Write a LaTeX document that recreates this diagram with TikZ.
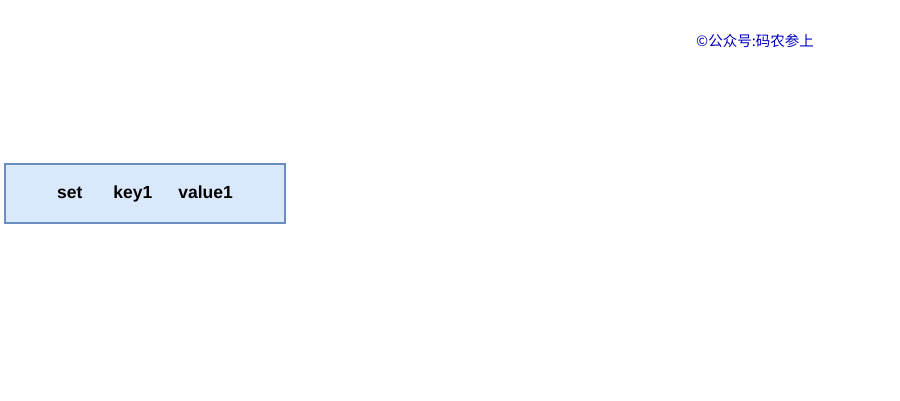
\documentclass[tikz,border=0pt]{standalone}
\usepackage{fontspec}
\setmainfont{Liberation Sans}
\newfontfamily\cjk{Noto Sans CJK SC}
\definecolor{boxfill}{HTML}{DAE8FC}
\definecolor{boxline}{HTML}{6C8EBF}
\definecolor{wmblue}{HTML}{0000BB}
\begin{document}
\begin{tikzpicture}[x=1pt,y=-1pt,
  cmdbox/.style={draw=boxline,fill=boxfill,line width=1.2pt,minimum width=280pt,minimum height=59pt,inner sep=0pt,font=\fontsize{17.5}{20}\selectfont\bfseries},
  mark text/.style={text=wmblue,font=\cjk\fontsize{14.5}{16}\selectfont,inner sep=0pt}]
\useasboundingbox (0,0) rectangle (900,400);
\node[cmdbox] (cmd) at (145,193.5) {\raisebox{-1.5pt}{set\hspace{31pt}key1\hspace{26pt}value1}};
\node[mark text] (wm) at (755,40.5) {©公众号:码农参上};
\end{tikzpicture}
\end{document}
